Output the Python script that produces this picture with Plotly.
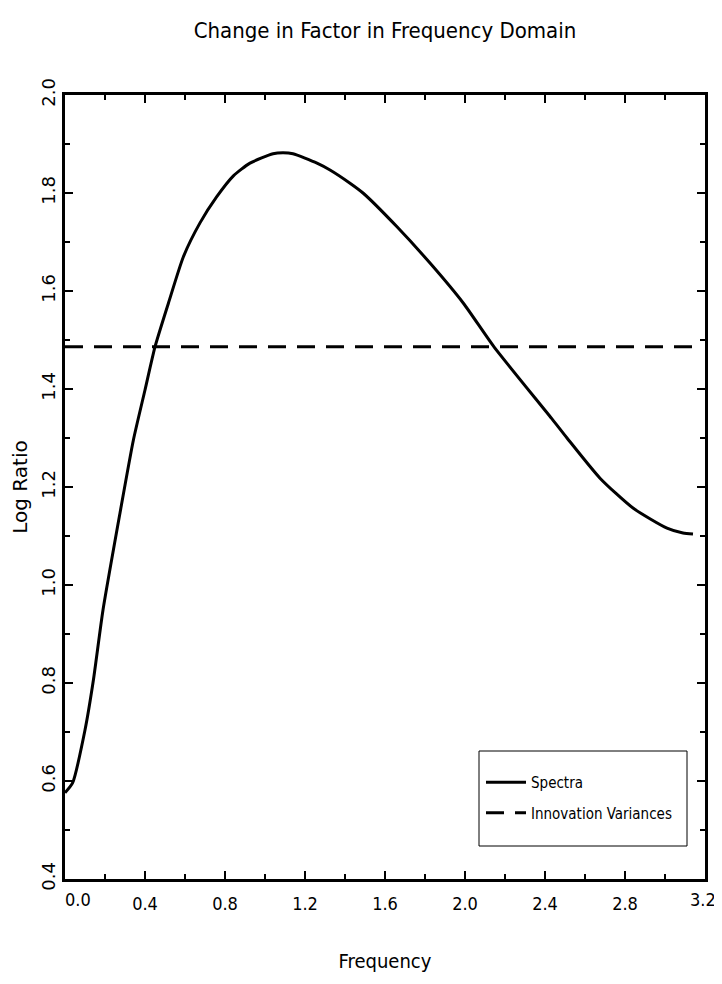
import plotly.graph_objects as go

# ---- data ----
freq = [0.0, 0.038, 0.10, 0.142, 0.19, 0.275, 0.342, 0.40, 0.45, 0.517,
        0.592, 0.675, 0.758, 0.842, 0.925, 1.04, 1.09, 1.14, 1.26, 1.325, 1.425,
        1.49, 1.66, 1.825, 1.992, 2.145, 2.433, 2.51, 2.675, 2.84, 3.01, 3.09,
        3.14]
spectra = [0.576, 0.596, 0.704, 0.806, 0.949, 1.147, 1.296, 1.398, 1.486, 1.575,
           1.670, 1.739, 1.792, 1.835, 1.861, 1.880, 1.882, 1.880, 1.861,
           1.847, 1.820, 1.800, 1.731, 1.657, 1.575, 1.486, 1.340, 1.300, 1.218,
           1.157, 1.116, 1.106, 1.104]
innov_freq = [0.0, 3.14]
innov_var = [1.486, 1.486]

x_tickvals = [0.0, 0.4, 0.8, 1.2, 1.6, 2.0, 2.4, 2.8, 3.2]
x_ticklabels = ["0.0", "0.4", "0.8", "1.2", "1.6", "2.0", "2.4", "2.8", "3.2"]
y_tickvals = [0.4, 0.6, 0.8, 1.0, 1.2, 1.4, 1.6, 1.8, 2.0]
y_ticklabels = ["0.4", "0.6", "0.8", "1.0", "1.2", "1.4", "1.6", "1.8", "2.0"]

NARROW = "DejaVu Sans Condensed, Liberation Sans Narrow, sans-serif"
WIDE = "DejaVu Sans, Verdana, sans-serif"

# page body has an 8px default margin -> figure is offset by 8px;
# keep the page within the window so no scrollbar appears
W, H = 714, 968
L, R, T, B = 57, 17, 87, 97
PW, PH = W - L - R, H - T - B

fig = go.Figure()
fig.add_trace(go.Scatter(
    x=freq, y=spectra, mode="lines", name="Spectra",
    line=dict(color="black", width=3, shape="spline", smoothing=0.6),
    legendgroup="a"))
fig.add_trace(go.Scatter(
    x=innov_freq, y=innov_var, mode="lines", name="Innovation Variances",
    line=dict(color="black", width=3, dash="18px,11px"), legendgroup="b"))

axis_common = dict(
    showline=True, linecolor="black", linewidth=3, mirror="allticks",
    ticks="inside", ticklen=8, tickwidth=1.5, tickcolor="black",
    showgrid=False, zeroline=False,
)

# end labels are drawn as annotations so they can be nudged off the frame
fig.update_xaxes(
    range=[0, 3.2], tickmode="array", tickvals=x_tickvals,
    ticktext=[""] + x_ticklabels[1:-1] + [""],
    tickfont=dict(family=NARROW, size=18, color="black"),
    ticklabelstandoff=6,
    minor=dict(dtick=0.2, tick0=0, ticks="inside", ticklen=5, tickwidth=1.5,
               tickcolor="black", showgrid=False),
    title=dict(text="Frequency", font=dict(family=NARROW, size=20, color="black"),
               standoff=42),
    **axis_common)

fig.update_yaxes(
    range=[0.4, 2.0], tickmode="array", tickvals=y_tickvals, ticktext=y_ticklabels,
    tickangle=-90,
    tickfont=dict(family=WIDE, size=18, color="black"),
    minor=dict(dtick=0.1, tick0=0, ticks="inside", ticklen=5, tickwidth=1.5,
               tickcolor="black", showgrid=False),
    title=dict(text="Log Ratio", font=dict(family=WIDE, size=20, color="black"),
               standoff=5),
    **axis_common)

for val, lab, shift in [(x_tickvals[0], x_ticklabels[0], 13),
                        (x_tickvals[-1], x_ticklabels[-1], -2)]:
    fig.add_annotation(
        x=val, y=0, xref="x", yref="paper", yanchor="top", xanchor="center",
        text=lab, showarrow=False, xshift=shift, yshift=-8,
        font=dict(family=NARROW, size=18, color="black"))

# legend frame (reference box is taller than plotly's default padding)
fig.add_shape(type="rect", xref="paper", yref="paper",
              x0=(479 - 65) / PW, x1=(687 - 65) / PW,
              y0=(879 - 846) / PH, y1=(879 - 751) / PH,
              line=dict(color="black", width=1), fillcolor="white", layer="above")

fig.update_layout(
    width=W, height=H,
    margin=dict(l=L, r=R, t=T, b=B, autoexpand=False),
    paper_bgcolor="white", plot_bgcolor="white",
    title=dict(text="Change in Factor in Frequency Domain",
               font=dict(family=NARROW, size=22, color="black"),
               x=0.5, xref="paper", xanchor="center",
               y=1 - 22 / H, yanchor="middle"),
    legend=dict(x=(481 - 65) / PW, y=(879 - 766) / PH, xanchor="left", yanchor="top",
                borderwidth=0, bgcolor="rgba(0,0,0,0)",
                font=dict(family=NARROW, size=15, color="black"),
                tracegroupgap=8, itemwidth=40),
    showlegend=True,
)

fig.write_html("out.html")
